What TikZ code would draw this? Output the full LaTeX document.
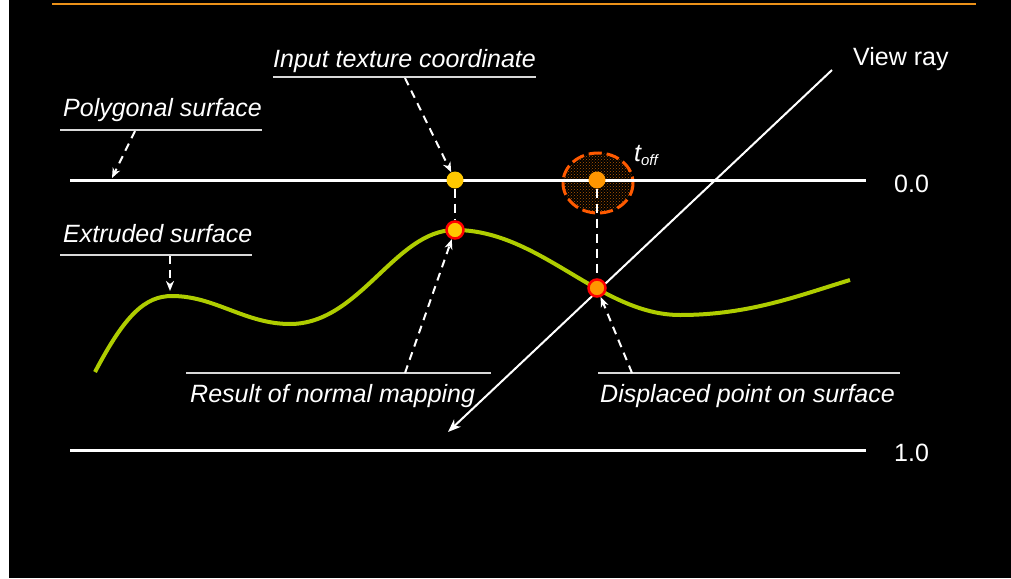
\documentclass[tikz,border=0pt]{standalone}
\usepackage{fontspec}
\setmainfont{Liberation Sans}
\usetikzlibrary{arrows.meta,positioning,calc,patterns}
\definecolor{slideorange}{RGB}{235,145,25}
\definecolor{curvegreen}{RGB}{175,205,0}
\definecolor{dotyellow}{RGB}{255,200,0}
\definecolor{dotorange}{RGB}{255,150,0}
\definecolor{ringorange}{RGB}{255,90,0}

\begin{document}
\begin{tikzpicture}[x=1pt, y=-1pt,
    lbl/.style={anchor=base west, inner sep=0pt, text=white, font=\fontsize{25}{30}\selectfont\itshape},
    val/.style={anchor=base west, inner sep=0pt, text=white, font=\fontsize{25}{30}\selectfont},
    uline/.style={draw=white!85!black, line width=1.3pt},
    surf/.style={draw=white, line width=3pt},
    ray/.style={draw=white, line width=2pt, -{Stealth[length=13pt,width=10pt,inset=4pt]}},
    pointer/.style={draw=white, line width=2pt, dash pattern=on 8pt off 6pt, -{Stealth[length=10pt,width=8pt,inset=3pt]}},
    drop/.style={draw=white, line width=2pt, dash pattern=on 9pt off 6pt},
    texdot/.style={circle, fill=#1, minimum size=17pt, inner sep=0pt},
    hitdot/.style={circle, fill=#1, draw=red, line width=2.5pt, minimum size=17pt, inner sep=0pt}
]
    \useasboundingbox (0,0) rectangle (1011,578);
    \fill[white] (0,0) rectangle (9,578);
    \fill[black] (9,0) rectangle (1011,578);
    \draw[slideorange, line width=2pt] (52,4) -- (976,4);

    % offset area
    \draw[ringorange, line width=3pt, dash pattern=on 13pt off 5pt,
          pattern=crosshatch dots, pattern color=orange!70!black]
        (598,183) ellipse [x radius=35, y radius=30];

    % surfaces
    \draw[surf] (70,180) -- (866,180);
    \draw[surf] (70,450) -- (866,450);
    \draw[curvegreen, line width=4pt] (95,372)
        .. controls (125,315) and (145,296) .. (172,296)
        .. controls (215,296) and (245,324) .. (290,324)
        .. controls (360,324) and (395,230) .. (455,230)
        .. controls (540,230) and (600,315) .. (680,315)
        .. controls (750,315) and (800,295) .. (850,280);

    % view ray
    \coordinate (raytop) at (832,70);
    \coordinate (raybot) at (448,432);
    \draw[ray] (raytop) -- (raybot);

    % points
    \node[texdot=dotyellow] (texin) at (455,180) {};
    \node[texdot=dotorange] (shift) at (597,180) {};
    \node[hitdot=dotyellow] (nmap) at (455,230) {};
    \node[hitdot=dotorange] (disp) at (597,288) {};

    % labels
    \node[lbl] (polylbl) at (63,116) {Polygonal surface};
    \node[lbl] (inlbl) at (273,67) {Input texture coordinate};
    \node[lbl] (extlbl) at (63,242) {Extruded surface};
    \node[lbl] (reslbl) at (190,402) {Result of normal mapping};
    \node[lbl] (displbl) at (600,402) {Displaced point on surface};
    \node[val] (raylbl) at (853,66) {View ray};
    \node[val] (zero) at (894,192) {0.0};
    \node[val] (one) at (894,461) {1.0};
    \node[lbl] (toff) at (634,161) {t\raisebox{-4pt}{\fontsize{15}{18}\selectfont off}};

    \draw[uline] ([shift={(-3,14)}]polylbl.base west) -- ([shift={(0,14)}]polylbl.base east);
    \draw[uline] ([shift={(0,10)}]inlbl.base west) -- ([shift={(0,10)}]inlbl.base east);
    \draw[uline] ([shift={(-3,13)}]extlbl.base west) -- ([shift={(0,13)}]extlbl.base east);
    \draw[uline] ([shift={(-4,-29)}]reslbl.base west) -- ([shift={(16,-29)}]reslbl.base east);
    \draw[uline] ([shift={(-2,-29)}]displbl.base west) -- ([shift={(5,-29)}]displbl.base east);

    % pointers
    \coordinate (polyfoot) at (135,131);
    \coordinate (polytip) at (112,178);
    \coordinate (infoot) at (405,78);
    \coordinate (extfoot) at (170,256);
    \coordinate (exttip) at (170,291);
    \coordinate (resfoot) at (405,373);
    \coordinate (dispfoot) at (632,373);

    \draw[pointer] (polyfoot) -- (polytip);
    \draw[pointer] (infoot) -- (texin);
    \draw[pointer] (extfoot) -- (exttip);
    \draw[pointer] (resfoot) -- (nmap);
    \draw[pointer] (dispfoot) -- (disp);
    \draw[drop] (texin) -- (nmap);
    \draw[drop] (shift) -- (disp);
\end{tikzpicture}
\end{document}
